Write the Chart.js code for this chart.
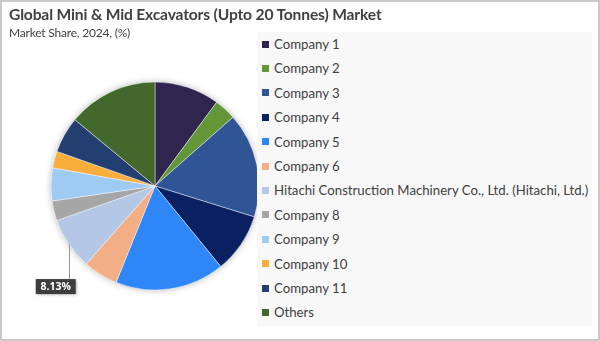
<!DOCTYPE html>
<html>
<head>
<meta charset="utf-8">
<title>Global Mini & Mid Excavators Market Share</title>
<script src="https://cdn.jsdelivr.net/npm/chart.js@4/dist/chart.umd.min.js"></script>
<style>
  html, body { margin: 0; padding: 0; background: #fff; }
  .frame {
    position: relative; width: 600px; height: 341px; box-sizing: border-box;
    border: 2px solid #c9c9c9; overflow: hidden; background: #fff;
  }
  .title {
    position: absolute; left: 7px; top: 3px; margin: 0;
    font: bold 15.6px Lato, sans-serif; color: #404040; letter-spacing: -0.15px;
  }
  .subtitle {
    position: absolute; left: 7px; top: 23px; margin: 0;
    font: 12px Lato, sans-serif; color: #404040; letter-spacing: -0.2px;
  }
  #chartWrap { position: absolute; left: -2px; top: -2px; width: 600px; height: 341px; }
  #legend {
    position: absolute; left: 255px; top: 30px; width: 335px; height: 294px;
    background: #f8f8f8;
  }
  #legend ul { list-style: none; margin: 0; padding: 0; }
  #legend li {
    position: absolute; left: 5px; height: 14px; display: flex; align-items: center;
    font: 13.2px Lato, sans-serif; color: #404040; white-space: nowrap;
  }
  #legend li span.box { display: inline-block; width: 7px; height: 7px; margin-right: 5px; }
</style>
</head>
<body>
<div class="frame">
  <div id="chartWrap"><canvas id="shareChart" width="600" height="341"></canvas></div>
  <p class="title">Global Mini &amp; Mid Excavators (Upto 20 Tonnes) Market</p>
  <p class="subtitle">Market Share, 2024, (%)</p>
  <div id="legend"></div>
</div>
<script>
(function(){
  const companies = ['Company 1','Company 2','Company 3','Company 4','Company 5','Company 6',
    'Hitachi Construction Machinery Co., Ltd. (Hitachi, Ltd.)','Company 8','Company 9',
    'Company 10','Company 11','Others'];
  const shares = [10.1, 3.4, 16.3, 9.3, 17.0, 5.4, 8.13, 3.06, 5.1, 2.6, 5.6, 14.0];
  const colors = ['#30254f','#629636','#2f5597','#0b2060','#2e86f7','#f2ae84',
    '#b4c7e7','#a6a6a6','#9ecbf4','#f9ae3c','#233f71','#43682b'];
  // only the highlighted company gets a callout
  const calloutIndex = 6;

  // soft shadow under the whole pie
  const pieShadow = {
    id: 'pieShadow',
    beforeDatasetsDraw(chart) {
      const arc = chart.getDatasetMeta(0).data[0];
      if (!arc) return;
      const {x, y, outerRadius} = arc.getProps(['x','y','outerRadius'], true);
      const ctx = chart.ctx;
      ctx.save();
      ctx.shadowColor = 'rgba(0,0,0,0.28)';
      ctx.shadowBlur = 7;
      ctx.beginPath();
      ctx.arc(x, y, outerRadius, 0, Math.PI * 2);
      ctx.fillStyle = '#fff';
      ctx.fill();
      ctx.restore();
    }
  };

  // value callout with a vertical leader line
  const callout = {
    id: 'callout',
    afterDatasetsDraw(chart) {
      const arc = chart.getDatasetMeta(0).data[calloutIndex];
      if (!arc) return;
      const {x, y, startAngle, endAngle, outerRadius} =
        arc.getProps(['x','y','startAngle','endAngle','outerRadius'], true);
      const mid = (startAngle + endAngle) / 2;
      const ax = x + Math.cos(mid) * outerRadius;
      const ay = y + Math.sin(mid) * outerRadius;
      const boxTop = ay + 35, boxW = 40, boxH = 15;
      const boxLeft = ax - 33;
      const ctx = chart.ctx;
      ctx.save();
      ctx.strokeStyle = '#9a9a9a';
      ctx.lineWidth = 1;
      ctx.beginPath();
      ctx.moveTo(Math.round(ax) + 0.5, ay);
      ctx.lineTo(Math.round(ax) + 0.5, boxTop);
      ctx.stroke();
      ctx.shadowColor = 'rgba(0,0,0,0.35)';
      ctx.shadowBlur = 3;
      ctx.shadowOffsetX = 1;
      ctx.shadowOffsetY = 1;
      ctx.fillStyle = '#3d3d3d';
      ctx.fillRect(boxLeft, boxTop, boxW, boxH);
      ctx.shadowColor = 'transparent';
      ctx.fillStyle = '#fff';
      ctx.font = 'bold 10.5px "Open Sans", sans-serif';
      ctx.textAlign = 'center';
      ctx.textBaseline = 'middle';
      ctx.fillText(shares[calloutIndex].toFixed(2) + '%', boxLeft + boxW / 2, boxTop + boxH / 2 + 0.5);
      ctx.restore();
    }
  };

  // legend list built from the chart's own legend items
  const htmlLegend = {
    id: 'htmlLegend',
    afterUpdate(chart) {
      const host = document.getElementById('legend');
      host.innerHTML = '';
      const ul = document.createElement('ul');
      const items = chart.options.plugins.legend.labels.generateLabels(chart);
      items.forEach((item, i) => {
        const li = document.createElement('li');
        li.style.top = (5 + i * 24.4) + 'px';
        const box = document.createElement('span');
        box.className = 'box';
        box.style.background = item.fillStyle;
        li.appendChild(box);
        li.appendChild(document.createTextNode(item.text));
        ul.appendChild(li);
      });
      host.appendChild(ul);
    }
  };

  new Chart(document.getElementById('shareChart'), {
    type: 'pie',
    data: {
      labels: companies,
      datasets: [{
        data: shares,
        backgroundColor: colors,
        borderColor: 'rgba(255,255,255,0.55)',
        borderWidth: 0.8
      }]
    },
    options: {
      responsive: false,
      animation: false,
      radius: 104,
      layout: { padding: { left: 51, right: 341, top: 80, bottom: 49 } },
      plugins: {
        legend: { display: false },
        tooltip: { enabled: false }
      }
    },
    plugins: [pieShadow, callout, htmlLegend]
  });
})();
</script>
</body>
</html>
